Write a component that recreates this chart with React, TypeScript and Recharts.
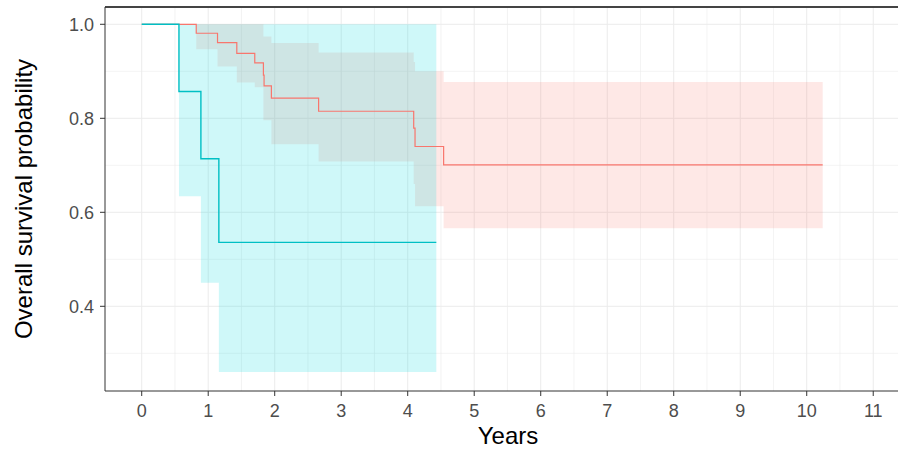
import React from 'react';
import { ComposedChart, Area, Line, XAxis, YAxis, CartesianGrid, ReferenceLine } from 'recharts';

// Red group (Kaplan-Meier step curve and 95% CI)
const redTimes = [0, 0.82, 1.14, 1.43, 1.7, 1.83, 1.84, 1.95, 2.66, 4.09, 4.11, 4.54, 10.24];
const redSurv = [1, 0.981, 0.961, 0.938, 0.918, 0.892, 0.869, 0.843, 0.815, 0.779, 0.74, 0.701, 0.701];
const redUpper = [1, 1, 1, 1, 1, 0.974, 0.974, 0.96, 0.94, 0.92, 0.9, 0.877, 0.877];
const redLower = [1, 0.947, 0.91, 0.876, 0.866, 0.796, 0.796, 0.745, 0.708, 0.66, 0.613, 0.566, 0.566];

// Teal group
const tealTimes = [0, 0.56, 0.89, 1.16, 4.43];
const tealSurv = [1, 0.857, 0.714, 0.536, 0.536];
const tealUpper = [1, 1, 1, 1, 1];
const tealLower = [1, 0.634, 0.45, 0.26, 0.26];

const xTicks = [0, 1, 2, 3, 4, 5, 6, 7, 8, 9, 10, 11];
const xMinor = [0.5, 1.5, 2.5, 3.5, 4.5, 5.5, 6.5, 7.5, 8.5, 9.5, 10.5, 11.5];
const yTicks = [0.4, 0.6, 0.8, 1.0];
const yMinor = [0.3, 0.5, 0.7, 0.9];

const X_DOMAIN: [number, number] = [-0.552, 11.568];
const Y_DOMAIN: [number, number] = [0.2198, 1.0368];

function stepAt(times: number[], values: number[], t: number): number | undefined {
  if (t > times[times.length - 1] + 1e-9) return undefined;
  let v: number | undefined = undefined;
  for (let i = 0; i < times.length; i++) {
    if (times[i] <= t + 1e-9) v = values[i];
  }
  return v;
}

const allTimes = Array.from(new Set([...redTimes, ...tealTimes])).sort((a, b) => a - b);

const data = allTimes.map((t) => {
  const rs = stepAt(redTimes, redSurv, t);
  const ru = stepAt(redTimes, redUpper, t);
  const rl = stepAt(redTimes, redLower, t);
  const ts = stepAt(tealTimes, tealSurv, t);
  const tu = stepAt(tealTimes, tealUpper, t);
  const tl = stepAt(tealTimes, tealLower, t);
  return {
    t,
    red: rs,
    redBand: rs === undefined ? undefined : [rl, ru],
    teal: ts,
    tealBand: ts === undefined ? undefined : [tl, tu],
  };
});

const FONT = '"Liberation Sans", Arial, sans-serif';

export default function App() {
  return (
    <div style={{ position: 'absolute', left: 0, top: 0, width: 898, height: 452, overflow: 'hidden', background: '#fff' }}>
      <ComposedChart
        width={911}
        height={452}
        data={data}
        margin={{ top: 7, right: 0, bottom: 0, left: 0 }}
        style={{ fontFamily: FONT }}
      >
        <CartesianGrid
          stroke="#EBEBEB"
          strokeWidth={0.6}
          verticalValues={xMinor}
          horizontalValues={yMinor}
        />
        <CartesianGrid
          stroke="#EBEBEB"
          strokeWidth={1}
          verticalValues={xTicks}
          horizontalValues={yTicks}
        />
        <XAxis
          dataKey="t"
          type="number"
          domain={X_DOMAIN}
          allowDataOverflow
          ticks={xTicks}
          interval={0}
          height={61}
          tickSize={5}
          tickMargin={8}
          stroke="#333333"
          tick={{ fill: '#4D4D4D', fontSize: 18, fontFamily: FONT }}
          tickLine={{ stroke: '#333333' }}
          axisLine={{ stroke: '#333333' }}
          label={{
            content: (props: any) => {
              const vb = props.viewBox || { x: 105, y: 391, width: 806, height: 61 };
              return (
                <text
                  x={vb.x + vb.width / 2}
                  y={vb.y + vb.height - 8}
                  textAnchor="middle"
                  fontSize={24}
                  fill="#000"
                  fontFamily={FONT}
                >
                  Years
                </text>
              );
            },
          }}
        />
        <YAxis
          type="number"
          domain={Y_DOMAIN}
          allowDataOverflow
          ticks={yTicks}
          interval={0}
          width={105}
          tickSize={5}
          tickMargin={6}
          tickFormatter={(v: number) => v.toFixed(1)}
          tick={{ fill: '#4D4D4D', fontSize: 18, fontFamily: FONT }}
          tickLine={{ stroke: '#333333' }}
          axisLine={{ stroke: '#333333' }}
          label={{
            content: (props: any) => {
              const vb = props.viewBox || { x: 0, y: 7, width: 105, height: 384 };
              const cx = 31.7;
              const cy = vb.y + vb.height / 2;
              return (
                <text
                  x={cx}
                  y={cy}
                  transform={`rotate(-90 ${cx} ${cy})`}
                  textAnchor="middle"
                  fontSize={24}
                  fill="#000"
                  fontFamily={FONT}
                >
                  Overall survival probability
                </text>
              );
            },
          }}
        />
        <ReferenceLine y={Y_DOMAIN[1]} stroke="#444444" strokeWidth={2} ifOverflow="visible" />
        <Area
          dataKey="redBand"
          type="stepAfter"
          stroke="none"
          fill="#F8766D"
          fillOpacity={0.17}
          isAnimationActive={false}
          dot={false}
          activeDot={false}
        />
        <Area
          dataKey="tealBand"
          type="stepAfter"
          stroke="none"
          fill="#00DCE0"
          fillOpacity={0.19}
          isAnimationActive={false}
          dot={false}
          activeDot={false}
        />
        <Line
          dataKey="red"
          type="stepAfter"
          stroke="#F8766D"
          strokeWidth={1.2}
          dot={false}
          activeDot={false}
          isAnimationActive={false}
        />
        <Line
          dataKey="teal"
          type="stepAfter"
          stroke="#00BFC4"
          strokeWidth={1.4}
          dot={false}
          activeDot={false}
          isAnimationActive={false}
        />
      </ComposedChart>
    </div>
  );
}
